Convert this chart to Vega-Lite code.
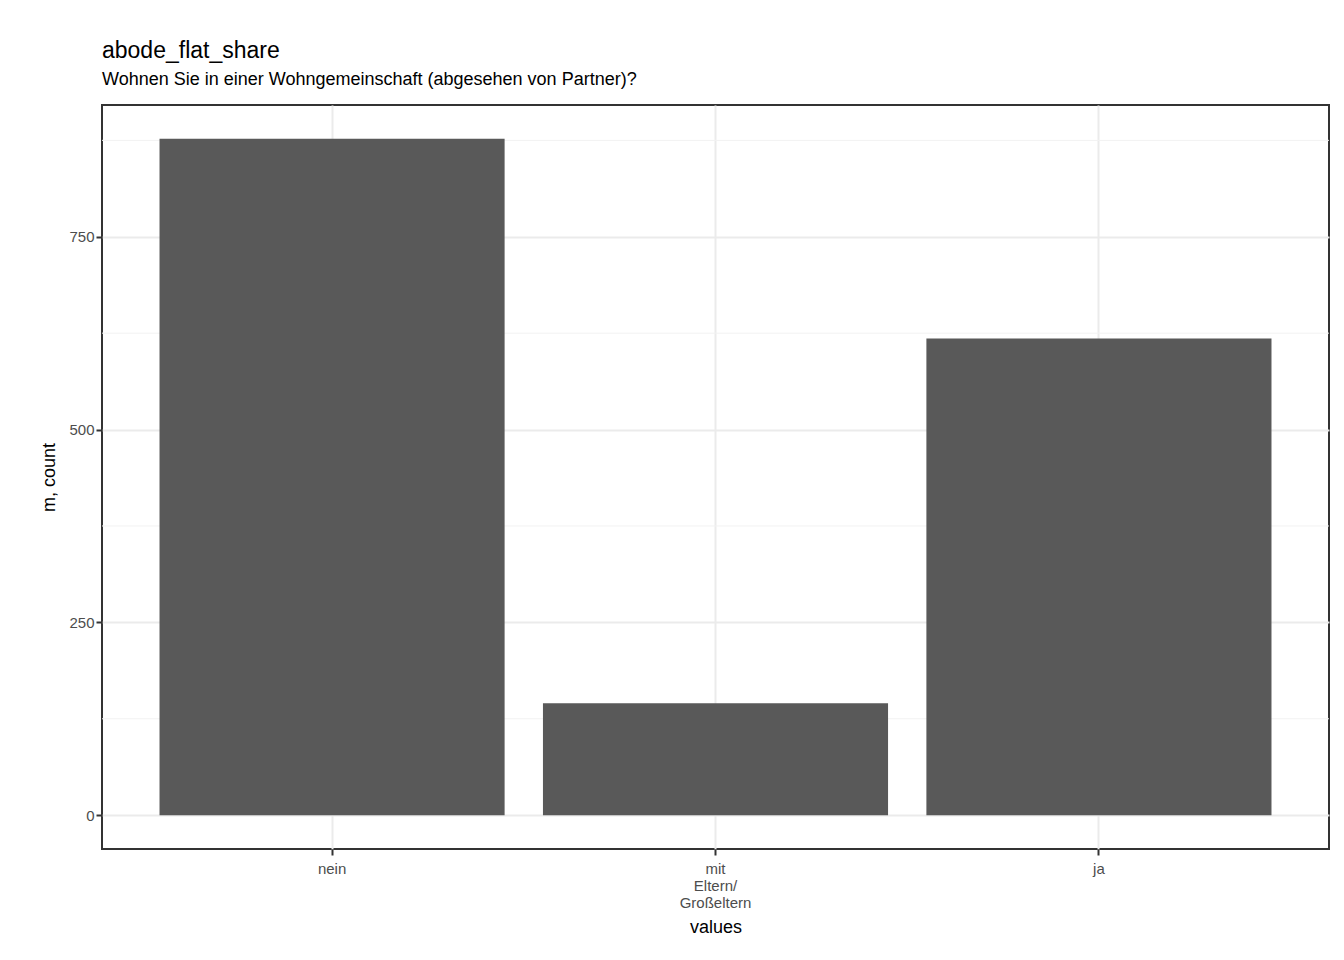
{
  "$schema": "https://vega.github.io/schema/vega-lite/v6.json",
  "autosize": {"type": "none"},
  "width": 1227,
  "height": 744,
  "padding": {"left": 102, "top": 105, "right": 15, "bottom": 111},
  "background": "white",
  "title": {
    "text": "abode_flat_share",
    "subtitle": "Wohnen Sie in einer Wohngemeinschaft (abgesehen von Partner)?",
    "anchor": "start",
    "frame": "group",
    "font": "Liberation Sans",
    "fontSize": 23,
    "fontWeight": "normal",
    "color": "black",
    "subtitleFont": "Liberation Sans",
    "subtitleFontSize": 18,
    "subtitleColor": "black",
    "subtitlePadding": 8,
    "offset": 16
  },
  "config": {
    "view": {"stroke": "#333333", "strokeWidth": 2},
    "axis": {
      "labelFont": "Liberation Sans",
      "labelFontSize": 15,
      "labelColor": "#4d4d4d",
      "titleFont": "Liberation Sans",
      "titleFontSize": 18,
      "titleFontWeight": "normal",
      "titleColor": "black",
      "gridColor": "#ebebeb",
      "gridWidth": 2,
      "tickColor": "#333333",
      "tickWidth": 2,
      "tickSize": 6,
      "domain": false
    }
  },
  "layer": [
    {
      "data": {"values": [{"m": 125}, {"m": 375}, {"m": 625}, {"m": 875}]},
      "mark": {"type": "rule", "color": "#f2f2f2", "strokeWidth": 1},
      "encoding": {
        "y": {"field": "m", "type": "quantitative", "scale": {"domain": [-43.85, 920.85], "nice": false, "zero": false}}
      }
    },
    {
      "data": {
        "values": [
          {"values": "nein", "count": 877},
          {"values": "mit Eltern/ Großeltern", "count": 145},
          {"values": "ja", "count": 618}
        ]
      },
      "mark": {"type": "bar", "color": "#595959"},
      "encoding": {
        "x": {
          "field": "values",
          "type": "nominal",
          "sort": null,
          "scale": {"paddingInner": 0.1, "paddingOuter": 0.15},
          "axis": {"labelAngle": 0, "grid": true, "labelExpr": "split(datum.label, ' ')", "labelPadding": 6, "titlePadding": 8}
        },
        "y": {
          "field": "count",
          "type": "quantitative",
          "scale": {"domain": [-43.85, 920.85], "nice": false, "zero": false},
          "axis": {"values": [0, 250, 500, 750], "grid": true, "titlePadding": 10}
        }
      }
    }
  ]
}
